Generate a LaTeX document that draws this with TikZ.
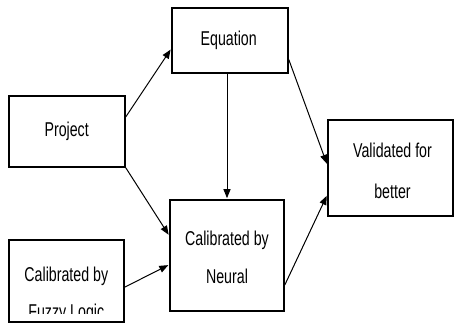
\documentclass[tikz,border=0pt]{standalone}
\usepackage{fontspec}
\setmainfont[FakeStretch=0.71]{Liberation Sans}
\usetikzlibrary{arrows.meta,calc}
\begin{document}
\begin{tikzpicture}[x=1pt,y=-1pt,
  box/.style={draw, line width=1.6pt, inner sep=0pt},
  txt/.style={inner sep=0pt, align=center, anchor=base,
    font=\fontsize{20}{39}\selectfont},
  arr/.style={line width=1pt, -{Triangle[length=9pt,width=7pt]}, shorten >=1pt}]
\useasboundingbox (0,0) rectangle (454,324);
\node[box, minimum width=116pt, minimum height=65pt] (eq) at (230,40.5) {};
\node[box, minimum width=116pt, minimum height=71pt] (proj) at (67,131.5) {};
\node[box, minimum width=114pt, minimum height=111pt] (neural) at (227,255.5) {};
\node[box, minimum width=125pt, minimum height=96pt] (valid) at (390.5,168) {};
\node[box, minimum width=115pt, minimum height=82pt] (fuzzy) at (66.5,281) {};
\node[txt] (eqt) at (228.7,45.7) {Equation};
\node[txt] (projt) at (66.7,136) {Project};
\node[txt, font=\fontsize{20}{38.3}\selectfont] (neuralt) at (227,283.3) {Calibrated by\\Neural};
\node[txt, font=\fontsize{20}{41}\selectfont] (validt) at (392.5,198.5) {Validated for\\better};
\begin{scope}
  \clip (fuzzy.north west) rectangle (454,313);
  \node[txt, font=\fontsize{20}{37}\selectfont] (fuzzyt) at (66.3,318.5) {Calibrated by\\Fuzzy Logic};
\end{scope}
\draw[arr] (proj.14) -- (eq.188);
\draw[arr] (proj.south east) -- (neural.161);
\draw[arr] (eq.south -| neural.north) -- (neural.north);
\draw[arr] (eq.-18.6) -- (valid.177);
\draw[arr] (neural.-27.4) -- (valid.203.4);
\draw[arr] (fuzzy.-6) -- (neural.189.5);
\end{tikzpicture}
\end{document}
